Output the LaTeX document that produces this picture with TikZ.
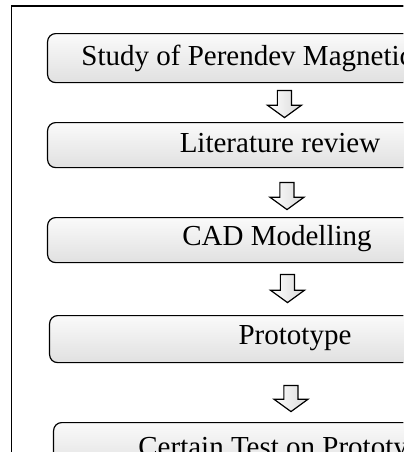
\documentclass[tikz,border=0pt]{standalone}
\usepackage{fontspec}
\setmainfont{Liberation Serif}
\usetikzlibrary{positioning,shapes.arrows}

\tikzset{
	stage/.style={draw, line width=0.6pt, rounded corners=4pt, top color=gray!4, bottom color=gray!24, anchor=north west, minimum width=230pt, inner sep=0pt},
	stagetext/.style={font=\fontsize{14.5}{17}\selectfont, inner sep=0pt},
	flowarrow/.style={draw, line width=0.6pt, left color=white, right color=gray!30, shape=single arrow, shape border rotate=270, inner sep=3.25pt, single arrow head extend=5pt, single arrow tip angle=108}
}

\begin{document}
\begin{tikzpicture}[x=0.5pt, y=-0.5pt]
	\useasboundingbox (0,0) rectangle (411,452);
	\clip (0,0) rectangle (403.5,452);
	% Frame
	\draw [line width=0.75pt] (11.5,480) -- (11.5,6) -- (430,6);
	
	% Place nodes
	\node [stage, minimum height=24.5pt] (study) at (47,33) {};
	\node [stagetext] (study-t) at (247,58) {Study of Perendev Magnetic};
	\node [stage, minimum height=22.5pt] (review) at (47,122) {};
	\node [stagetext] (review-t) at (280,143) {Literature review};
	\node [stage, minimum height=22.5pt] (cad) at (47,217) {};
	\node [stagetext] (cad-t) at (277,239) {CAD Modelling};
	\node [stage, minimum height=23.5pt] (proto) at (49,315) {};
	\node [stagetext] (proto-t) at (295,338) {Prototype};
	\node [stage, minimum height=24pt] (test) at (53,422) {};
	\node [stagetext, anchor=base west] (test-t) at (138,456) {Certain Test on Prototype};
	
	% Draw arrows
	\node [flowarrow, minimum height=13.5pt] (a1) at (284.5,101.5) {};
	\node [flowarrow, minimum height=13.5pt] (a2) at (287,193.5) {};
	\node [flowarrow, minimum height=14pt] (a3) at (287.5,286) {};
	\node [flowarrow, minimum height=13pt] (a4) at (291,396) {};
\end{tikzpicture}
\end{document}
